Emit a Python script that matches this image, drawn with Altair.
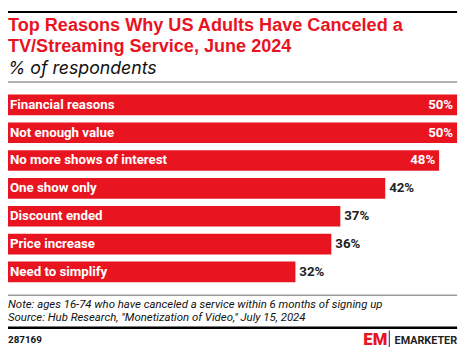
import altair as alt
import pandas as pd

reasons = ["Financial reasons", "Not enough value", "No more shows of interest",
           "One show only", "Discount ended", "Price increase", "Need to simplify"]
values = [50, 50, 48, 42, 37, 36, 32]

title_1 = "Top Reasons Why US Adults Have Canceled a"
title_2 = "TV/Streaming Service, June 2024"
subtitle = "% of respondents"
note = "Note: ages 16-74 who have canceled a service within 6 months of signing up"
source = "Source: Hub Research, \"Monetization of Video,\" July 15, 2024"
chart_id = "287169"
brand = "EMARKETER"

RED = "#e8141f"
FONT = "Roboto"

df = pd.DataFrame({"reason": reasons, "value": values})
df["label"] = [f"{v}%" for v in values]
df["inside"] = [v >= 45 for v in values]

x = alt.X("value:Q", scale=alt.Scale(domain=[0, 50], range=[0, 457]), axis=None)
y = alt.Y("reason:N", sort=reasons,
          scale=alt.Scale(range=[85, 276], paddingInner=0.26, paddingOuter=0),
          axis=None)

base = alt.Chart(df)
bars = base.mark_bar(color=RED, cornerRadius=0).encode(x=x, y=y)
names = base.mark_text(align="left", baseline="middle", color="white", font=FONT,
                       fontWeight="bold", fontSize=13.5, dx=2).encode(
    x=alt.value(0), y=y, text="reason:N")
val_in = base.transform_filter("datum.inside").mark_text(
    align="right", baseline="middle", color="white", font=FONT,
    fontWeight="bold", fontSize=13.5, dx=-4).encode(x=x, y=y, text="label:N")
val_out = base.transform_filter("!datum.inside").mark_text(
    align="left", baseline="middle", color="#222222", font=FONT,
    fontWeight="bold", fontSize=13.5, dx=4).encode(x=x, y=y, text="label:N")


def txt(s, xv, yv, font=FONT, **kw):
    return alt.Chart(pd.DataFrame({"t": [s]})).mark_text(
        baseline="alphabetic", font=font, **kw).encode(
        x=alt.value(xv), y=alt.value(yv), text="t:N")


def box(x0, x1, y0, y1, color):
    return alt.Chart(pd.DataFrame({"a": [0]})).mark_rect(color=color).encode(
        x=alt.value(x0), x2=alt.value(x1), y=alt.value(y0), y2=alt.value(y1))


TITLE_FONT = "Liberation Sans"
layers = [
    box(0, 457, 0, 2, "#000000"),
    txt(title_1, 0, 20.5, font=TITLE_FONT, align="left", fontSize=18.4, fontWeight="bold", color=RED),
    txt(title_2, 0, 41.5, font=TITLE_FONT, align="left", fontSize=18.4, fontWeight="bold", color=RED),
    txt(subtitle, 0, 64, font="Inter", align="left", fontSize=18, fontStyle="italic", color="#111111"),
    box(0, 457, 71.5, 73, "#9a9a9a"),
    bars, names, val_in, val_out,
    box(0, 457, 288.5, 290, "#9a9a9a"),
    txt(note, 0, 302.5, align="left", fontSize=11.6, fontStyle="italic", color="#111111"),
    txt(source, 0, 315.5, align="left", fontSize=11.6, fontStyle="italic", color="#111111"),
    box(0, 457, 321, 323.5, "#000000"),
    txt(chart_id, 0, 338, align="left", fontSize=10, fontWeight="bold", color="#111111"),
    txt("EM", 386, 339.5, align="right", fontSize=17, fontWeight=900, color=RED),
    box(387.5, 388.5, 325, 342, "#222222"),
    txt(brand, 457, 338.5, align="right", fontSize=11, fontWeight="bold", color="#222222"),
]

chart = alt.layer(*layers).properties(
    width=462, height=347, autosize=alt.AutoSizeParams(type="none"), padding=0
).configure_view(stroke=None)

chart.save("out.html", embed_options={"renderer": "svg", "actions": False})
